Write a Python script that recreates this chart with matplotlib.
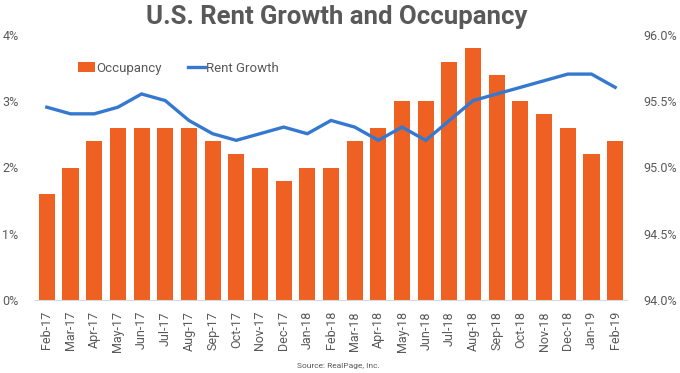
import matplotlib
matplotlib.use("Agg")
import matplotlib.pyplot as plt
from matplotlib.ticker import FuncFormatter

plt.rcParams['font.family'] = ['Roboto', 'DejaVu Sans']

months = ["Feb-17", "Mar-17", "Apr-17", "May-17", "Jun-17", "Jul-17", "Aug-17", "Sep-17",
          "Oct-17", "Nov-17", "Dec-17", "Jan-18", "Feb-18", "Mar-18", "Apr-18", "May-18",
          "Jun-18", "Jul-18", "Aug-18", "Sep-18", "Oct-18", "Nov-18", "Dec-18", "Jan-19", "Feb-19"]
occupancy = [94.8, 95.0, 95.2, 95.3, 95.3, 95.3, 95.3, 95.2, 95.1, 95.0, 94.9, 95.0, 95.0,
             95.2, 95.3, 95.5, 95.5, 95.8, 95.9, 95.7, 95.5, 95.4, 95.3, 95.1, 95.2]
rent_growth = [2.91, 2.81, 2.81, 2.91, 3.11, 3.01, 2.71, 2.51, 2.41, 2.51, 2.61, 2.51, 2.71,
               2.61, 2.41, 2.61, 2.41, 2.71, 3.01, 3.11, 3.21, 3.31, 3.41, 3.41, 3.21]
left_ticks = [0, 1, 2, 3, 4]
right_ticks = [94.0, 94.5, 95.0, 95.5, 96.0]

bar_color = "#EE6122"
line_color = "#3479CF"
text_color = "#595959"

fig = plt.figure(figsize=(6.8, 3.73), dpi=100)
ax = fig.add_axes([35/680, 1-300/373, 592/680, 265/373])
ax2 = ax.twinx()

x = list(range(len(months)))
ax2.bar(x, [v - 94.0 for v in occupancy], bottom=94.0, width=0.68, color=bar_color,
        label="Occupancy")
ax.plot(x, rent_growth, color=line_color, lw=2.4, label="Rent Growth", solid_joinstyle='miter')

ax.set_zorder(ax2.get_zorder() + 1)
ax.patch.set_visible(False)

ax.set_xlim(-0.5, len(months) - 0.5)
ax.set_ylim(0, 4)
ax2.set_ylim(94, 96)
ax.set_yticks(left_ticks)
ax2.set_yticks(right_ticks)
ax.yaxis.set_major_formatter(FuncFormatter(lambda v, p: f"{v:.0f}%"))
ax2.yaxis.set_major_formatter(FuncFormatter(lambda v, p: f"{v:.1f}%"))
ax.set_xticks(x)
ax.set_xticklabels(months, rotation=90)

for a in (ax, ax2):
    for s in a.spines.values():
        s.set_visible(False)
    a.tick_params(axis='y', length=0, labelsize=9, labelcolor=text_color)
ax.spines['bottom'].set_visible(True)
ax.spines['bottom'].set_color("#D9D9D9")
ax.tick_params(axis='x', length=0, labelsize=9, labelcolor=text_color, pad=8)
ax.tick_params(axis='y', pad=12)
ax2.tick_params(axis='y', pad=12)
ax2.tick_params(axis='x', length=0)

h1, l1 = ax2.get_legend_handles_labels()
h2, l2 = ax.get_legend_handles_labels()
leg = ax.legend(h1 + h2, l1 + l2, loc='center left', bbox_to_anchor=(0.052, 0.875),
                ncol=2, frameon=False, fontsize=9.5, handlelength=1.3, handletextpad=0.1,
                columnspacing=2.0, labelcolor=text_color)

fig.text(337/680, 1-17/373, "U.S. Rent Growth and Occupancy", ha='center', va='center',
         fontsize=18.5, fontweight='bold', color=text_color)
fig.text(297/680, 1-366/373, "Source: RealPage, Inc.", ha='left', va='center',
         fontsize=6, color=text_color)

fig.savefig("out.png", dpi=100)
